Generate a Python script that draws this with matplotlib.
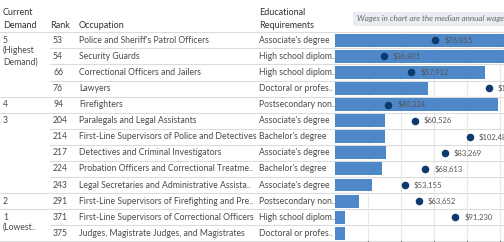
import matplotlib
matplotlib.use("Agg")
import matplotlib.pyplot as plt
from matplotlib.patches import Rectangle
import numpy as np

# ---------------- data ----------------
demand_groups = [("5", "(Highest\nDemand)", 0, 4), ("4", "", 4, 5), ("3", "", 5, 10),
                 ("2", "", 10, 11), ("1", "(Lowest..", 11, 13)]
ranks = [53, 54, 66, 76, 94, 204, 214, 217, 224, 243, 291, 371, 375]
occupations = [
    "Police and Sheriff's Patrol Officers",
    "Security Guards",
    "Correctional Officers and Jailers",
    "Lawyers",
    "Firefighters",
    "Paralegals and Legal Assistants",
    "First-Line Supervisors of Police and Detectives",
    "Detectives and Criminal Investigators",
    "Probation Officers and Correctional Treatme..",
    "Legal Secretaries and Administrative Assista..",
    "First-Line Supervisors of Firefighting and Pre..",
    "First-Line Supervisors of Correctional Officers",
    "Judges, Magistrate Judges, and Magistrates",
]
education = [
    "Associate's degree", "High school diplom..", "High school diplom..",
    "Doctoral or profes..", "Postsecondary non..", "Associate's degree",
    "Bachelor's degree", "Associate's degree", "Bachelor's degree",
    "Associate's degree", "Postsecondary non..", "High school diplom..",
    "Doctoral or profes..",
]
openings = [1950, 1900, 1497, 933, 1633, 503, 503, 507, 470, 367, 240, 103, 103]
wages = [76015, 36801, 57912, 116500, 40324, 60526, 102480, 83269, 68613,
         53155, 63652, 91230, 131500]

# ---------------- layout ----------------
W, H = 504, 242
fig = plt.figure(figsize=(W / 100, H / 100), dpi=100)
plt.rcParams['font.family'] = ['Lato', 'DejaVu Sans']

tab = fig.add_axes([0, 0, 1, 1])
tab.set_xlim(0, W)
tab.set_ylim(H, 0)
tab.axis('off')

row0, pitch = 40.3, 16.08
n = len(ranks)
txt_c = '#4a4a4a'
hdr_c = '#333333'
fs = 6.2
line_c = '#dcdcdc'

def ry(i):
    return row0 + pitch * i

# headers
tab.text(3, 12.5, "Current", fontsize=fs + 0.3, color=hdr_c, va='center')
tab.text(3, 25, "Demand", fontsize=fs + 0.3, color=hdr_c, va='center')
tab.text(50, 25, "Rank", fontsize=fs + 0.3, color=hdr_c, va='center')
tab.text(79, 25, "Occupation", fontsize=fs + 0.3, color=hdr_c, va='center')
tab.text(259, 12.5, "Educational", fontsize=fs + 0.3, color=hdr_c, va='center')
tab.text(259, 25, "Requirements", fontsize=fs + 0.3, color=hdr_c, va='center')

# note box
tab.add_patch(Rectangle((353, 11.5), 200, 14.5, facecolor='#e9edf2', edgecolor='none'))
tab.text(357, 19, "Wages in chart are the median annual wage", fontsize=fs - 0.3,
         color='#6a6a6a', style='italic', va='center')

# header line
tab.plot([0, W], [32.2, 32.2], color=line_c, lw=0.8)

# rows
for i in range(n):
    y = ry(i)
    tab.text(53, y, str(ranks[i]), fontsize=fs, color=txt_c, va='center')
    tab.text(79, y, occupations[i], fontsize=fs, color=txt_c, va='center')
    tab.text(259, y, education[i], fontsize=fs, color=txt_c, va='center')

group_ends = set()
for lab, sub, s, e in demand_groups:
    tab.text(3, ry(s), lab, fontsize=fs, color=txt_c, va='center')
    if sub:
        tab.text(3, ry(s) + 5.5, sub, fontsize=fs, color=txt_c, va='top', linespacing=1.35)
    group_ends.add(e)

for i in range(1, n + 1):
    y = ry(i) - pitch / 2
    x0 = 0 if i in group_ends else 50
    tab.plot([x0, W], [y, y], color=line_c, lw=0.8)

# chart area (extends beyond right edge of figure)
px_left, px_right = 335.0, 600.0
top_px, bot_px = 32.2, ry(n) - pitch / 2
rect = [px_left / W, 1 - bot_px / H, (px_right - px_left) / W, (bot_px - top_px) / H]
ax_b = fig.add_axes(rect)
ax_b.patch.set_alpha(0)
wage_max = (px_right - px_left) / 0.001318
bar_max = (px_right - px_left) * 10
ypos = np.arange(n)
ax_b.barh(ypos, openings, height=0.8, color='#4f88c8', zorder=2)
ax_b.set_xlim(0, bar_max)
ax_b.set_ylim(n - 0.5, -0.5)
ratio = bar_max / wage_max
ax_b.set_xticks(np.arange(25000, wage_max, 25000) * ratio)
ax_b.grid(axis='x', color='#e8e8e8', lw=0.8, zorder=0)
ax_b.set_axisbelow(True)
ax_b.tick_params(left=False, bottom=False, labelleft=False, labelbottom=False)
for sp in ax_b.spines.values():
    sp.set_visible(False)

ax_w = ax_b.twiny()
ax_w.set_xlim(0, wage_max)
ax_w.set_ylim(n - 0.5, -0.5)
ax_w.scatter(wages, ypos, s=30, color='#0d3b6e', zorder=3, linewidths=0)
for w, y in zip(wages, ypos):
    ax_w.annotate(f"${w:,.0f}", (w, y), xytext=(6.5, 0), textcoords='offset points',
                  fontsize=fs - 0.7, color='#555555', va='center', ha='left')
ax_w.tick_params(top=False, labeltop=False)
for sp in ax_w.spines.values():
    sp.set_visible(False)

fig.savefig("out.png", dpi=100)
